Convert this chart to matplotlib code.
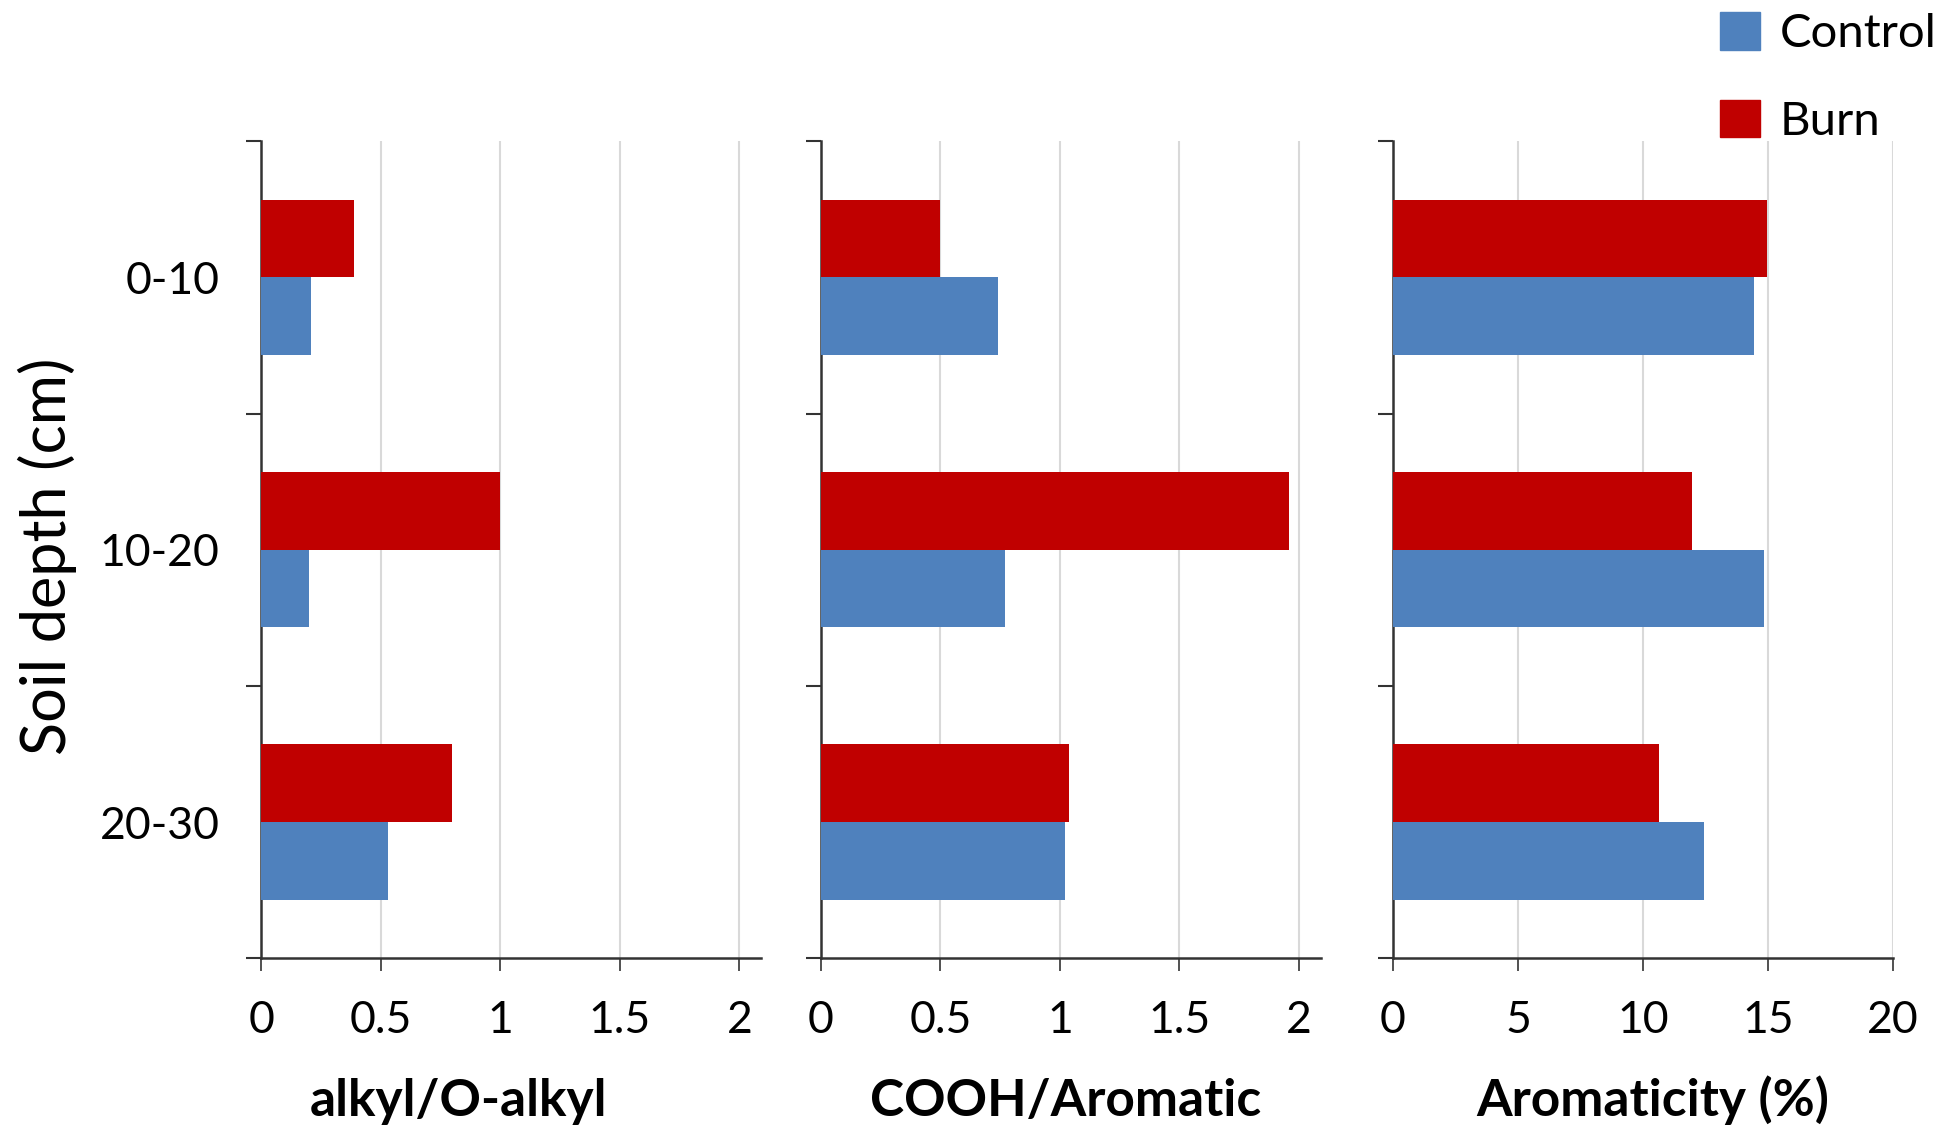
import matplotlib as mpl
mpl.use('Agg')
import matplotlib.pyplot as plt
from matplotlib.patches import Patch
import numpy as np

plt.rcParams['font.family'] = ['Lato', 'DejaVu Sans']

depths = ["0-10", "10-20", "20-30"]
series = ["Control", "Burn"]

alkyl_control = [0.21, 0.20, 0.53]
alkyl_burn = [0.39, 1.00, 0.80]
cooh_control = [0.74, 0.77, 1.02]
cooh_burn = [0.50, 1.96, 1.04]
arom_control = [14.45, 14.85, 12.45]
arom_burn = [14.95, 11.95, 10.65]

xlabels = ["alkyl/O-alkyl", "COOH/Aromatic", "Aromaticity (%)"]
xticks = [[0, 0.5, 1, 1.5, 2], [0, 0.5, 1, 1.5, 2], [0, 5, 10, 15, 20]]
xtick_labels = [["0", "0.5", "1", "1.5", "2"], ["0", "0.5", "1", "1.5", "2"],
                ["0", "5", "10", "15", "20"]]
xlims = [2.09, 2.09, 20]

blue = "#4F81BD"
red = "#C00000"
grid_col = "#D9D9D9"
tick_fs = 32

fig = plt.figure(figsize=(19.59, 11.33), dpi=100)
lefts = [0.1333, 0.419, 0.7111]
width = 0.2551
bottom = 0.1543
height = 0.8754 - 0.1543

control_sets = [alkyl_control, cooh_control, arom_control]
burn_sets = [alkyl_burn, cooh_burn, arom_burn]
label_x = [0.2339, 0.544, 0.8438]

y = np.arange(len(depths))
h = 0.285

for i in range(3):
    ax = fig.add_axes([lefts[i], bottom, width, height])
    ax.barh(y + h / 2, control_sets[i], height=h, color=blue, zorder=3)
    ax.barh(y - h / 2, burn_sets[i], height=h, color=red, zorder=3)
    ax.set_ylim(2.5, -0.5)
    ax.set_xlim(0, xlims[i])
    ax.set_xticks(xticks[i])
    ax.set_xticklabels(xtick_labels[i], fontsize=tick_fs)
    ax.grid(axis='x', color=grid_col, linewidth=1.5, zorder=0)
    ax.set_yticks([-0.5, 0.5, 1.5, 2.5])
    ax.set_yticklabels([])
    ax.set_yticks(y, minor=True)
    if i == 0:
        ax.set_yticklabels(depths, minor=True, fontsize=tick_fs)
    else:
        ax.set_yticklabels([], minor=True)
    ax.tick_params(axis='y', which='major', direction='out', length=11, width=1.5, color="#333333")
    ax.tick_params(axis='y', which='minor', length=0, pad=30)
    ax.tick_params(axis='x', direction='out', length=9, width=1.2, pad=21, color="#333333")
    for s in ['top', 'right']:
        ax.spines[s].set_visible(False)
    for s in ['left', 'bottom']:
        ax.spines[s].set_linewidth(1.8)
        ax.spines[s].set_color("#333333")
    fig.text(label_x[i], 0.0154, xlabels[i], ha='center', va='baseline',
             fontsize=37, fontweight='bold')

fig.text(0.0242, 0.509, "Soil depth (cm)", rotation=90, ha='center', va='center',
         fontsize=44)

handles = [Patch(facecolor=blue, edgecolor=blue), Patch(facecolor=red, edgecolor=red)]
fig.legend(handles, series, loc='upper left', bbox_to_anchor=(0.8782, 0.989),
           frameon=False, fontsize=34, handlelength=0.83, handleheight=0.83,
           handletextpad=0.42, labelspacing=0.94, borderpad=0, borderaxespad=0)

fig.savefig("out.png", dpi=100)
